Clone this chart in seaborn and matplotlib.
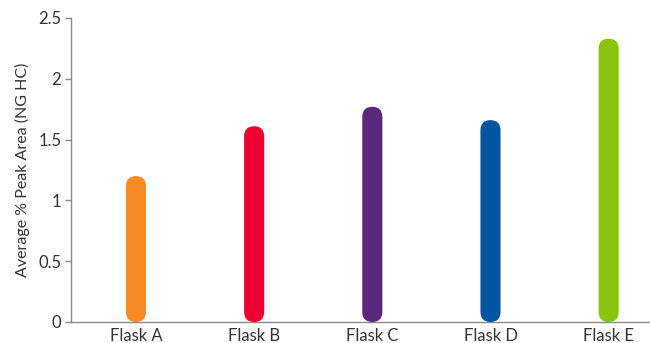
import matplotlib
matplotlib.use("Agg")
import matplotlib.pyplot as plt
from matplotlib.patches import FancyBboxPatch
from matplotlib.ticker import FuncFormatter
import seaborn as sns
import pandas as pd

flasks = ["Flask A", "Flask B", "Flask C", "Flask D", "Flask E"]
peak_area = [1.2, 1.61, 1.77, 1.66, 2.33]
colors = ["#F58B22", "#EE0130", "#5C287D", "#02559F", "#8CC30F"]

sns.set_theme(style="white")
plt.rcParams["font.family"] = ["Lato", "DejaVu Sans"]

df = pd.DataFrame({"flask": flasks, "value": peak_area})

fig = plt.figure(figsize=(6.5, 3.43), dpi=100)
ax = fig.add_axes([71 / 650, 1 - 322 / 343, 1 - 71 / 650, (322 - 18) / 343])

bar_w = 0.17
sns.barplot(data=df, x="flask", y="value", hue="flask", palette=colors,
            saturation=1, width=bar_w, legend=False, ax=ax)

ax.set_xlim(-0.55, 4.35)
ax.set_ylim(0, 2.5)

# swap the square bars for capsule-shaped ones
fig.canvas.draw()
bb = ax.get_window_extent()
x_per_px = (4.35 + 0.55) / bb.width
y_per_px = 2.5 / bb.height
aspect = y_per_px / x_per_px
for p in list(ax.patches):
    x0, y0 = p.get_x(), p.get_y()
    w, h = p.get_width(), p.get_height()
    fc = p.get_facecolor()
    p.set_visible(False)
    r = w / 2
    cap = FancyBboxPatch((x0, y0), w, h,
                         boxstyle=f"round,pad=0,rounding_size={r}",
                         mutation_aspect=aspect, facecolor=fc,
                         edgecolor="none", zorder=3)
    ax.add_patch(cap)

ax.set_yticks([0, 0.5, 1, 1.5, 2, 2.5])
ax.yaxis.set_major_formatter(FuncFormatter(lambda v, _: f"{v:g}"))
ax.set_xlabel("")
ax.set_ylabel("Average % Peak Area (NG HC)", fontsize=11.5, color="#333333", labelpad=6)

for s in ["top", "right"]:
    ax.spines[s].set_visible(False)
for s in ["left", "bottom"]:
    ax.spines[s].set_color("#8a8a8a")
    ax.spines[s].set_linewidth(1.0)

ax.tick_params(axis="y", which="major", length=4, width=1, color="#8a8a8a",
               direction="out", left=True, labelsize=12, labelcolor="#333333", pad=3)
ax.tick_params(axis="x", length=0, labelsize=12, labelcolor="#333333", pad=4)

fig.savefig("out.png", dpi=100)
